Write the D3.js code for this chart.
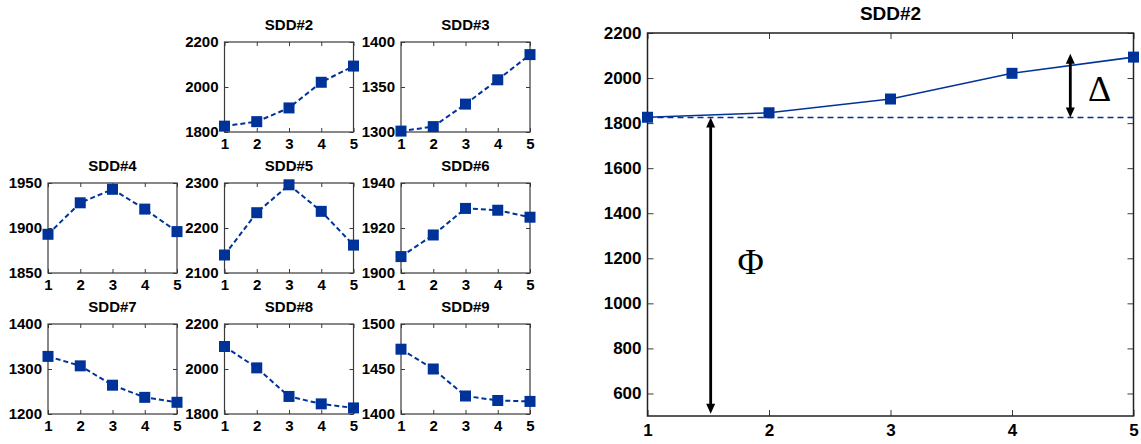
<!DOCTYPE html>
<html>
<head>
<meta charset="utf-8">
<script src="https://cdn.jsdelivr.net/npm/d3@7"></script>
<style>
  html, body { margin: 0; padding: 0; background: #fff; }
  svg text { font-family: "Liberation Sans", Arial, sans-serif; }
</style>
</head>
<body>
<svg id="chart" width="1141" height="444"></svg>
<script>
// ---------------- data ----------------
const xCats = [1, 2, 3, 4, 5];

const panelTitles = ["SDD#2", "SDD#3", "SDD#4", "SDD#5", "SDD#6", "SDD#7", "SDD#8", "SDD#9"];

const sdd2 = [1826, 1846, 1907, 2021, 2093];
const sdd3 = [1301, 1306, 1331, 1358, 1386];
const sdd4 = [1893, 1928, 1943, 1921, 1896];
const sdd5 = [2140, 2234, 2296, 2237, 2162];
const sdd6 = [1907.3, 1916.9, 1928.7, 1927.9, 1924.8];
const sdd7 = [1328, 1307, 1264, 1237, 1226];
const sdd8 = [2100, 2005, 1878, 1845, 1827];
const sdd9 = [1472, 1450, 1420, 1415, 1414];

const sdd2Ticks = [1800, 2000, 2200];
const sdd3Ticks = [1300, 1350, 1400];
const sdd4Ticks = [1850, 1900, 1950];
const sdd5Ticks = [2100, 2200, 2300];
const sdd6Ticks = [1900, 1920, 1940];
const sdd7Ticks = [1200, 1300, 1400];
const sdd8Ticks = [1800, 2000, 2200];
const sdd9Ticks = [1400, 1450, 1500];

const bigTitle = "SDD#2";
const bigTicks = [600, 800, 1000, 1200, 1400, 1600, 1800, 2000, 2200];
const bigDomain = [500, 2200];
const phiBase = 1825;          // baseline value (dashed line)
const phiArrow = { x: 1.52, from: 1825, to: 510 };
const deltaArrow = { x: 4.48, from: 1825, to: 2108 };
const phiLabel = { x: 1.85, y: 1185, text: "\u03A6" };
const deltaLabel = { x: 4.72, y: 1950, text: "\u0394" };

// ---------------- layout ----------------
const svg = d3.select("#chart");
const blue = "#003399";
const frame = "#3a3a3a";

const colX = [48, 224.5, 401];
const rowY = [42, 183, 324];
const pw = 129, ph = 90;

const panels = [
  { title: panelTitles[0], vals: sdd2, ticks: sdd2Ticks, col: 1, row: 0 },
  { title: panelTitles[1], vals: sdd3, ticks: sdd3Ticks, col: 2, row: 0 },
  { title: panelTitles[2], vals: sdd4, ticks: sdd4Ticks, col: 0, row: 1 },
  { title: panelTitles[3], vals: sdd5, ticks: sdd5Ticks, col: 1, row: 1 },
  { title: panelTitles[4], vals: sdd6, ticks: sdd6Ticks, col: 2, row: 1 },
  { title: panelTitles[5], vals: sdd7, ticks: sdd7Ticks, col: 0, row: 2 },
  { title: panelTitles[6], vals: sdd8, ticks: sdd8Ticks, col: 1, row: 2 },
  { title: panelTitles[7], vals: sdd9, ticks: sdd9Ticks, col: 2, row: 2 },
];

function styleAxis(g, fontSize) {
  g.select(".domain").remove();
  g.selectAll(".tick line").attr("stroke", frame).attr("stroke-width", 1);
  g.selectAll(".tick text")
    .attr("font-size", fontSize + "px")
    .attr("font-weight", "bold")
    .attr("fill", "#000");
}

function drawPanel(p) {
  const x0 = colX[p.col], y0 = rowY[p.row];
  const g = svg.append("g").attr("transform", `translate(${x0},${y0})`);
  const x = d3.scaleLinear().domain([1, 5]).range([0, pw]);
  const y = d3.scaleLinear().domain([p.ticks[0], p.ticks[p.ticks.length - 1]]).range([ph, 0]);

  // inward ticks on all sides
  g.append("g").attr("transform", `translate(0,${ph})`)
    .call(d3.axisBottom(x).tickValues(xCats).tickSize(-4).tickPadding(6).tickFormat(d3.format("d")))
    .call(a => styleAxis(a, 15));
  g.append("g")
    .call(d3.axisTop(x).tickValues(xCats).tickSize(-4).tickFormat(""))
    .call(a => styleAxis(a, 15));
  g.append("g")
    .call(d3.axisLeft(y).tickValues(p.ticks).tickSize(-4).tickPadding(6).tickFormat(d3.format("d")))
    .call(a => styleAxis(a, 15));
  g.append("g").attr("transform", `translate(${pw},0)`)
    .call(d3.axisRight(y).tickValues(p.ticks).tickSize(-4).tickFormat(""))
    .call(a => styleAxis(a, 15));

  g.append("rect").attr("width", pw).attr("height", ph)
    .attr("fill", "none").attr("stroke", frame).attr("stroke-width", 1.2);

  g.append("text").attr("x", pw / 2).attr("y", -12.5)
    .attr("text-anchor", "middle").attr("font-size", "15px").attr("font-weight", "bold")
    .text(p.title);

  const line = d3.line().x((d, i) => x(xCats[i])).y(d => y(d));
  g.append("path").datum(p.vals).attr("d", line)
    .attr("fill", "none").attr("stroke", blue).attr("stroke-width", 2)
    .attr("stroke-dasharray", "5,3");

  const ms = 11;
  g.selectAll("rect.m").data(p.vals).enter().append("rect").attr("class", "m")
    .attr("x", (d, i) => x(xCats[i]) - ms / 2).attr("y", d => y(d) - ms / 2)
    .attr("width", ms).attr("height", ms).attr("fill", blue);
}
panels.forEach(drawPanel);

// ---------------- big chart ----------------
(function () {
  const x0 = 647.5, y0 = 33, w = 486, h = 383;
  const g = svg.append("g").attr("transform", `translate(${x0},${y0})`);
  const x = d3.scaleLinear().domain([1, 5]).range([0, w]);
  const y = d3.scaleLinear().domain(bigDomain).range([h, 0]);

  g.append("g").attr("transform", `translate(0,${h})`)
    .call(d3.axisBottom(x).tickValues(xCats).tickSize(-6).tickPadding(8).tickFormat(d3.format("d")))
    .call(a => styleAxis(a, 17));
  g.append("g")
    .call(d3.axisTop(x).tickValues(xCats).tickSize(-6).tickFormat(""))
    .call(a => styleAxis(a, 17));
  g.append("g")
    .call(d3.axisLeft(y).tickValues(bigTicks).tickSize(-6).tickPadding(6).tickFormat(d3.format("d")))
    .call(a => styleAxis(a, 17));
  g.append("g").attr("transform", `translate(${w},0)`)
    .call(d3.axisRight(y).tickValues(bigTicks).tickSize(-6).tickFormat(""))
    .call(a => styleAxis(a, 17));

  g.append("rect").attr("width", w).attr("height", h)
    .attr("fill", "none").attr("stroke", "#222").attr("stroke-width", 1.5);

  g.append("text").attr("x", w / 2).attr("y", -13)
    .attr("text-anchor", "middle").attr("font-size", "19px").attr("font-weight", "bold")
    .text(bigTitle);

  // dashed baseline
  g.append("line").attr("x1", x(1)).attr("x2", x(5))
    .attr("y1", y(phiBase)).attr("y2", y(phiBase))
    .attr("stroke", blue).attr("stroke-width", 1.6).attr("stroke-dasharray", "6,4");

  const line = d3.line().x((d, i) => x(xCats[i])).y(d => y(d));
  g.append("path").datum(sdd2).attr("d", line)
    .attr("fill", "none").attr("stroke", blue).attr("stroke-width", 1.6);

  const ms = 11;
  g.selectAll("rect.m").data(sdd2).enter().append("rect").attr("class", "m")
    .attr("x", (d, i) => x(xCats[i]) - ms / 2).attr("y", d => y(d) - ms / 2)
    .attr("width", ms).attr("height", ms).attr("fill", blue);

  // double-headed arrows
  function arrow(a) {
    const ax = x(a.x), ya = y(a.from), yb = y(a.to);
    const hl = 10, hw = 4.5;
    g.append("line").attr("x1", ax).attr("x2", ax)
      .attr("y1", ya + (yb > ya ? hl : -hl) * 0.5).attr("y2", yb - (yb > ya ? hl : -hl) * 0.5)
      .attr("stroke", "#000").attr("stroke-width", 2.8);
    [[ya, yb > ya ? 1 : -1], [yb, yb > ya ? -1 : 1]].forEach(([tip, dir]) => {
      g.append("path")
        .attr("d", `M${ax},${tip} L${ax - hw},${tip + dir * hl} L${ax + hw},${tip + dir * hl} Z`)
        .attr("fill", "#000");
    });
  }
  arrow(phiArrow);
  arrow(deltaArrow);

  [phiLabel, deltaLabel].forEach(l => {
    g.append("text").attr("x", x(l.x)).attr("y", y(l.y))
      .attr("text-anchor", "middle").attr("dominant-baseline", "central")
      .style("font-family", "'Liberation Serif', 'Times New Roman', serif")
      .attr("font-size", "36px").text(l.text);
  });
})();
</script>
</body>
</html>
